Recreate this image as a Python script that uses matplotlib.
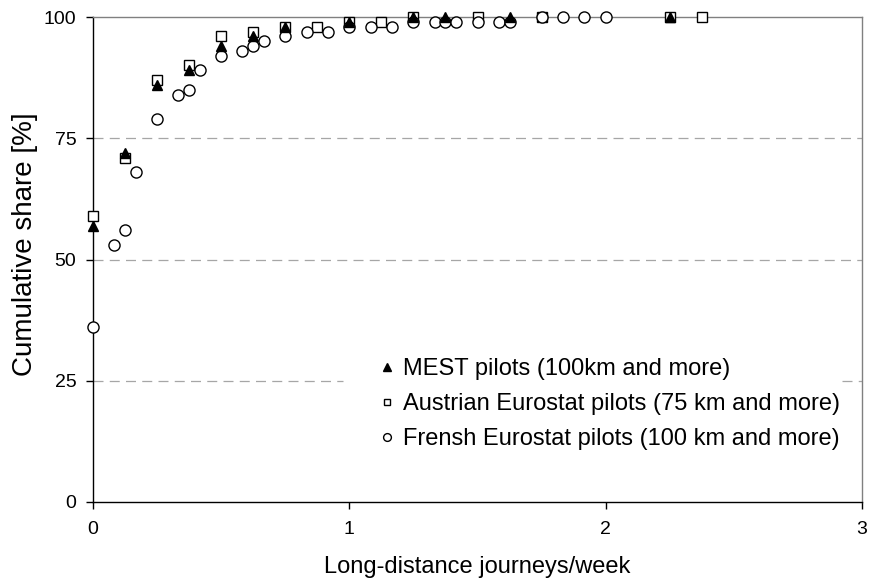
import matplotlib
matplotlib.use("Agg")
import matplotlib.pyplot as plt

plt.rcParams['font.family'] = ['Liberation Sans', 'DejaVu Sans']

# MEST pilots (100km and more)
mest_x = [0, 0.125, 0.25, 0.375, 0.5, 0.625, 0.75, 1.0, 1.25, 1.375, 1.625, 2.25]
mest_y = [57, 72, 86, 89, 94, 96, 98, 99, 100, 100, 100, 100]

# Austrian Eurostat pilots (75 km and more)
aut_x = [0, 0.125, 0.25, 0.375, 0.5, 0.625, 0.75, 0.875, 1.0, 1.125, 1.25, 1.5, 1.75, 2.25, 2.375]
aut_y = [59, 71, 87, 90, 96, 97, 98, 98, 99, 99, 100, 100, 100, 100, 100]

# Frensh Eurostat pilots (100 km and more)
fr_x = [0, 0.083, 0.125, 0.167, 0.25, 0.333, 0.375, 0.417, 0.5, 0.583, 0.625, 0.667,
        0.75, 0.833, 0.917, 1.0, 1.083, 1.167, 1.25, 1.333, 1.375, 1.417, 1.5, 1.583,
        1.625, 1.75, 1.833, 1.917, 2.0]
fr_y = [36, 53, 56, 68, 79, 84, 85, 89, 92, 93, 94, 95,
        96, 97, 97, 98, 98, 98, 99, 99, 99, 99, 99, 99,
        99, 100, 100, 100, 100]

labels = ['MEST pilots (100km and more)',
          'Austrian Eurostat pilots (75 km and more)',
          'Frensh Eurostat pilots (100 km and more)']

fig = plt.figure(figsize=(8.74, 5.84), dpi=100)
ax = fig.add_axes([93/874, 1 - 502/584, 769/874, 485/584])

ax.plot(aut_x, aut_y, ls='none', marker='s', ms=7, mfc='white', mec='black', mew=1,
        label=labels[1], zorder=3, clip_on=False)
ax.plot(fr_x, fr_y, ls='none', marker='o', ms=8, mfc='white', mec='black', mew=1,
        label=labels[2], zorder=4, clip_on=False)
ax.plot(mest_x, mest_y, ls='none', marker='^', ms=7.5, mfc='black', mec='black', mew=1,
        label=labels[0], zorder=5, clip_on=False)

ax.set_xlim(0, 3)
ax.set_ylim(0, 100)
ax.set_xticks([0, 1, 2, 3])
ax.set_yticks([0, 25, 50, 75, 100])
ax.tick_params(direction='out', length=5, width=1, labelsize=14, colors='black')
ax.tick_params(axis='x', pad=9)
ax.tick_params(axis='y', pad=7)

# dashed gridlines; the one at 25 is hidden behind the legend box
grid_kw = dict(color='#a6a6a6', lw=0.9, dashes=(8, 5), zorder=1)
for y in [50, 75]:
    ax.axhline(y, **grid_kw)
ax.axhline(25, xmin=0, xmax=(343 - 93) / 769, **grid_kw)
ax.axhline(25, xmin=(842 - 93) / 769, xmax=1, **grid_kw)

ax.spines['left'].set_color('black')
ax.spines['bottom'].set_color('black')
ax.spines['top'].set_color('#808080')
ax.spines['right'].set_color('#808080')
for s in ax.spines.values():
    s.set_linewidth(1)

ax.set_xlabel('Long-distance journeys/week', fontsize=17, labelpad=13)
ax.set_ylabel('Cumulative share [%]', fontsize=20)
ax.yaxis.set_label_coords((38 - 93) / 769, (502 - 244) / 485)

h, l = ax.get_legend_handles_labels()
order = [2, 0, 1]
leg = ax.legend([h[i] for i in order], [l[i] for i in order],
                loc='upper left', bbox_to_anchor=((379 - 93) / 769, (502 - 358) / 485),
                fontsize=17, markerscale=0.7, handlelength=0.7, handletextpad=0.33,
                labelspacing=0.55, borderpad=0, borderaxespad=0, frameon=False)

fig.savefig('out.png', dpi=100)
